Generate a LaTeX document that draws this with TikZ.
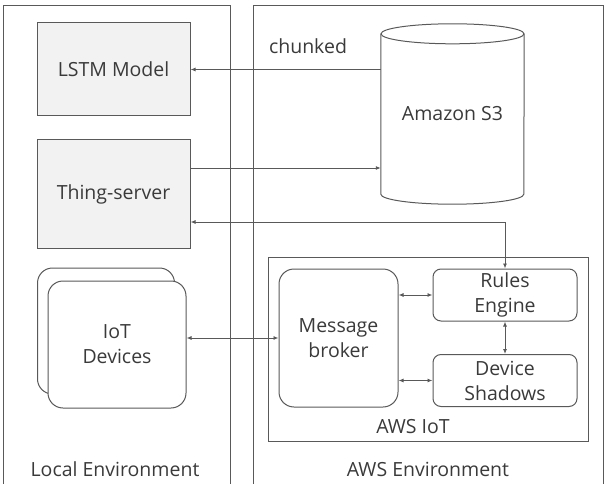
\documentclass[tikz,border=0pt]{standalone}
\usepackage{fontspec}
\setmainfont{Open Sans}
\usetikzlibrary{positioning}
\usetikzlibrary{arrows.meta}

\definecolor{linegray}{HTML}{595959}
\definecolor{boxgray}{HTML}{F2F2F2}
\definecolor{textgray}{HTML}{3A3A3A}

\begin{document}
\begin{tikzpicture}[x=1pt, y=-1pt,
		every node/.style={font=\fontsize{19.5}{25}\selectfont, text=textgray, align=center},
		envbox/.style={draw=linegray, line width=1pt},
		compbox/.style={draw=linegray, line width=1pt, fill=boxgray, minimum width=153pt, inner sep=0pt},
		roundbox/.style={draw=linegray, line width=1pt, fill=white, rounded corners=15pt, inner sep=0pt},
		servbox/.style={draw=linegray, line width=1pt, rounded corners=8pt, minimum width=144pt, minimum height=52pt, inner sep=0pt},
		link/.style={draw=linegray, line width=0.9pt, -{Latex[length=5pt, width=4pt]}},
		dlink/.style={draw=linegray, line width=0.9pt, {Latex[length=5pt, width=4pt]}-{Latex[length=5pt, width=4pt]}}
	]
	\useasboundingbox (0,0) rectangle (605,484);
	% environments
	\draw[envbox] (3,490) -- (3,6) -- (230,6) -- (230,490);
	\draw[envbox] (253,490) -- (253,6) -- (603,6) -- (603,490);
	\node (localenv) at (115,469) {Local Environment};
	\node (awsenv) at (428,469) {AWS Environment};

	% local side
	\node[compbox, minimum height=93pt] (lstm) at (113.5,69.5) {LSTM Model};
	\node[compbox, minimum height=108pt] (thing) at (113.5,194) {Thing-server};
	\node[roundbox, minimum width=137pt, minimum height=126pt] (iotback) at (106,331) {};
	\node[roundbox, minimum width=138pt, minimum height=127pt] (iot) at (117,344.5) {IoT\\Devices};

	% aws side: S3 drum
	\node[minimum width=143pt, minimum height=160pt, inner sep=0pt] (s3) at (452.5,114) {\raisebox{-6pt}{Amazon S3}};
	\draw[envbox] (s3.north west) -- (s3.south west)
		arc[start angle=180, end angle=0, x radius=71.5, y radius=10] -- (s3.north east);
	\draw[envbox] (s3.north) ellipse[x radius=71.5, y radius=10];
	\node (chunked) at (308,46) {chunked};
	\draw[envbox] (268,257) rectangle (588,441);
	\node (awsiot) at (413,427) {AWS IoT};
	\node[roundbox, minimum width=119pt, minimum height=138pt] (broker) at (338.5,338) {Message\\broker};
	\node[servbox] (rules) at (505,295) {Rules\\Engine};
	\node[servbox] (shadows) at (505,380.5) {Device\\Shadows};

	% connectors
	\coordinate (toS3) at ([yshift=26pt]thing.east);
	\coordinate (fromrules) at ([yshift=-28pt]thing.east);
	\draw[link] (s3.west |- lstm.east) -- (lstm.east);
	\draw[link] (toS3) -- (toS3 -| s3.west);
	\draw[dlink] (fromrules) -| (rules.north);
	\draw[dlink] (iot.east |- broker.west) -- (broker.west);
	\draw[dlink] (broker.east |- rules.west) -- (rules.west);
	\draw[dlink] (broker.east |- shadows.west) -- (shadows.west);
	\draw[dlink] (rules.south) -- (shadows.north);
\end{tikzpicture}
\end{document}
